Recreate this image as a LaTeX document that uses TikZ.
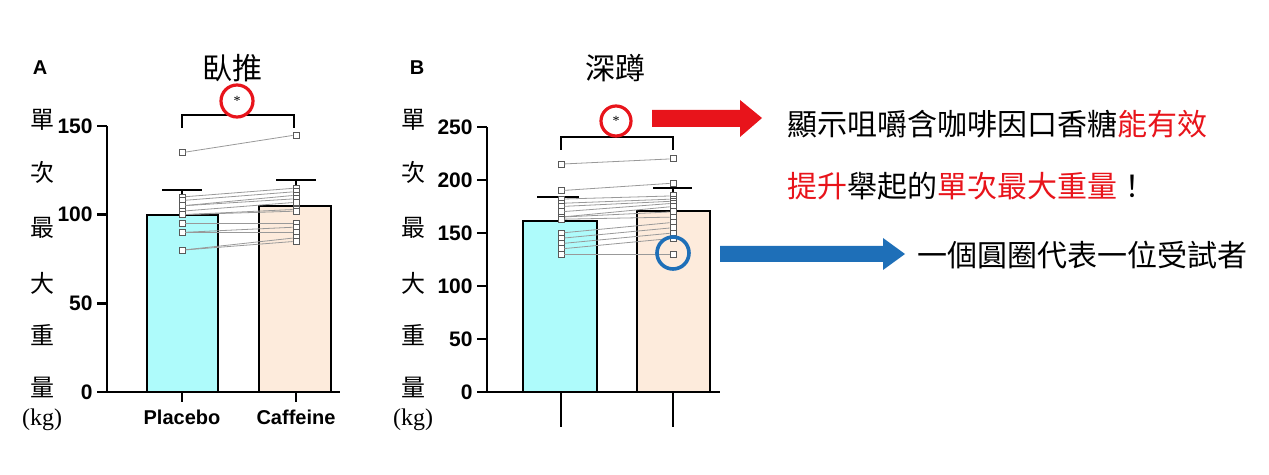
\documentclass[tikz,border=0pt]{standalone}
\usepackage{fontspec}
\setmainfont{Liberation Serif}
\newfontfamily\cjk{Noto Sans CJK TC}
\newfontfamily\arl{Liberation Sans}
\definecolor{cbar}{HTML}{AEFBFB}
\definecolor{bbar}{HTML}{FDEBDC}
\definecolor{myred}{HTML}{E8141B}
\definecolor{myblue}{HTML}{1E6FB8}
\begin{document}
\begin{tikzpicture}[x=0.5pt,y=-0.5pt,
  axis/.style={line width=1.3pt},
  barbox/.style={line width=1.1pt},
  tick/.style={font=\arl\bfseries\fontsize{10.5}{11}\selectfont, anchor=east, inner sep=1pt},
  ylab/.style={font=\cjk\fontsize{12}{12}\selectfont},
  pt/.style={draw=gray!70!black, fill=white, line width=0.4pt, minimum size=3pt, inner sep=0pt, rectangle},
  pline/.style={draw=gray!80, line width=0.4pt},
  big/.style={font=\cjk\fontsize{15}{15}\selectfont, inner sep=0pt},
  xlab/.style={font=\arl\bfseries\fontsize{10}{10}\selectfont},
  star/.style={circle, line width=1.6pt, fill=white, font=\fontsize{7}{7}\selectfont, inner sep=0pt}]
\useasboundingbox (0,0) rectangle (1269,475);
% ---------- Panel A
\node[font=\arl\bfseries\fontsize{10}{10}\selectfont] (la) at (40,68) {A};
\node[big] (ta) at (232,68) {臥推};
\foreach \c/\y in {單/120,次/172,最/228,大/283,重/335,量/387}{\node[ylab] at (42,\y) {\c};}
\node[font=\fontsize{12}{12}\selectfont] (kga) at (42,420) {(kg)};
\fill[cbar] (147,392) rectangle (218,215);
\fill[bbar] (259,392) rectangle (331,206);
\draw[barbox] (147,392) -- (147,215) -- (218,215) -- (218,392);
\draw[barbox] (259,392) -- (259,206) -- (331,206) -- (331,392);
\draw[line width=1.1pt] (182,215) -- (182,190) (162,190) -- (202,190);
\draw[line width=1.1pt] (296,206) -- (296,180) (276,180) -- (316,180);
\foreach \a/\b in {135/145,110/115,108/113,105/111,105/109,102/107,100/103,100/102,95/95,90/93,90/90,80/87,80/85}{
  \node[pt] (pa) at (182,{392-1.773*\a}) {};
  \node[pt] (pb) at (296,{392-1.773*\b}) {};
  \draw[pline] (pa) -- (pb);
}
\draw[axis] (107,126) -- (107,392) -- (340,392);
\foreach \v in {0,50,100,150}{
  \draw[axis] (97,{392-1.773*\v}) -- (107,{392-1.773*\v});
  \node[tick] at (95,{392-1.773*\v}) {\v};
}
\draw[axis] (182,392) -- (182,402) (296,392) -- (296,402);
\node[xlab] (xa1) at (182,417) {Placebo};
\node[xlab] (xa2) at (296,417) {Caffeine};
\draw[line width=0.8pt] (182,128) -- (182,115) -- (294,115) -- (294,128);
\node[star, draw=myred, minimum size=16pt] (sa) at (237,101) {*};
% ---------- Panel B
\node[font=\arl\bfseries\fontsize{10}{10}\selectfont] (lb) at (417,68) {B};
\node[big] (tb) at (615,68) {深蹲};
\foreach \c/\y in {單/120,次/172,最/228,大/283,重/335,量/387}{\node[ylab] at (413,\y) {\c};}
\node[font=\fontsize{12}{12}\selectfont] (kgb) at (413,420) {(kg)};
\fill[cbar] (523,392) rectangle (597,221);
\fill[bbar] (637,392) rectangle (710,211);
\draw[barbox] (523,392) -- (523,221) -- (597,221) -- (597,392);
\draw[barbox] (637,392) -- (637,211) -- (710,211) -- (710,392);
\draw[line width=1.1pt] (561,221) -- (561,197) (537,197) -- (579,197);
\draw[line width=1.1pt] (673,211) -- (673,188) (653,188) -- (692,188);
\foreach \a/\b in {215/220,190/197,182/185,178/182,175/180,170/178,165/175,165/170,163/165,150/160,145/155,140/150,135/145,130/130}{
  \node[pt] (qa) at (561,{392-1.06*\a}) {};
  \node[pt] (qb) at (673,{392-1.06*\b}) {};
  \draw[pline] (qa) -- (qb);
}
\draw[axis] (487,127) -- (487,392) -- (720,392);
\foreach \v in {0,50,100,150,200,250}{
  \draw[axis] (477,{392-1.06*\v}) -- (487,{392-1.06*\v});
  \node[tick] at (475,{392-1.06*\v}) {\v};
}
\draw[line width=0.9pt] (561,392) -- (561,427) (673,392) -- (673,427);
\draw[line width=0.8pt] (561,150) -- (561,137) -- (673,137) -- (673,150);
\node[star, draw=myred, minimum size=15pt] (sb) at (616,121) {*};
\node[circle, draw=myblue, line width=1.8pt, minimum size=16pt, inner sep=0pt] (bc) at (673,253) {};
% ---------- arrows and notes
\fill[myred] (652,110) -- (740,110) -- (740,100) -- (762,118) -- (740,137) -- (740,127) -- (652,127) -- cycle;
\fill[myblue] (720,246) -- (883,246) -- (883,238) -- (905,254) -- (883,270) -- (883,262) -- (720,262) -- cycle;
\node[big, anchor=west] (t1) at (787,124) {顯示咀嚼含咖啡因口香糖\textcolor{myred}{能有效}};
\node[big, anchor=west] (t2) at (787,186) {\textcolor{myred}{提升}舉起的\textcolor{myred}{單次最大重量}！};
\node[big, anchor=west] (t3) at (917,255) {一個圓圈代表一位受試者};
\end{tikzpicture}
\end{document}
